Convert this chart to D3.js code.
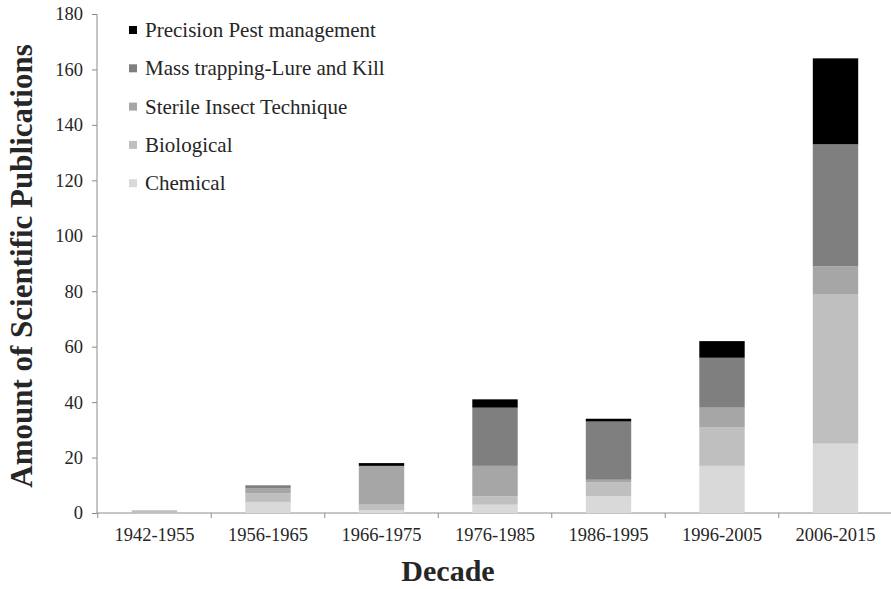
<!DOCTYPE html>
<html>
<head>
<meta charset="utf-8">
<script src="https://cdn.jsdelivr.net/npm/d3@7"></script>
<style>
	body { margin: 0; background: #fff; }
	text { font-family: "Liberation Serif", "Times New Roman", serif; fill: #262626; }
	.axis path, .axis line { stroke: #8c8c8c; }
</style>
</head>
<body>
<script>
// Data
var decades = ["1942-1955", "1956-1965", "1966-1975", "1976-1985", "1986-1995", "1996-2005", "2006-2015"];
var chemical = [0, 4, 1, 3, 6, 17, 25];
var biological = [1, 3, 2, 3, 5, 14, 54];
var sterile = [0, 2, 14, 11, 1, 7, 10];
var massTrapping = [0, 1, 0, 21, 21, 18, 44];
var precision = [0, 0, 1, 3, 1, 6, 31];
var yTicks = [0, 20, 40, 60, 80, 100, 120, 140, 160, 180];

var seriesNames = ["Chemical", "Biological", "Sterile Insect Technique", "Mass trapping-Lure and Kill", "Precision Pest management"];
var seriesValues = [chemical, biological, sterile, massTrapping, precision];
var colors = ["#d9d9d9", "#bfbfbf", "#a6a6a6", "#7f7f7f", "#000000"];

var width = 891, height = 589;

var svg = d3.select("body").append("svg")
	.attr("width", width)
	.attr("height", height);

// build rows for the stack
var rows = decades.map(function(d, i) {
	var r = { decade: d };
	seriesNames.forEach(function(s, j) { r[s] = seriesValues[j][i]; });
	return r;
});

var stack = d3.stack().keys(seriesNames);
var layers = stack(rows);

// scales
var x = d3.scaleBand()
	.domain(decades)
	.range([97.75, 892.25])
	.paddingInner(0.6)
	.paddingOuter(0.3);

var y = d3.scaleLinear()
	.domain([0, 180])
	.range([513, 14]);

var color = d3.scaleOrdinal().domain(seriesNames).range(colors);

// y axis
var yAxis = svg.append("g")
	.attr("class", "axis")
	.attr("transform", "translate(97,0)")
	.call(d3.axisLeft(y).tickValues(yTicks).tickSize(5).tickPadding(9));
yAxis.select(".domain").attr("d", "M0," + y(180) + "V" + y(0));
yAxis.selectAll("text").style("font-size", "18.5px").attr("fill", "#262626");

// x axis line and boundary ticks
var xAxis = svg.append("g").attr("class", "axis");
xAxis.append("line")
	.attr("x1", 97).attr("x2", 891)
	.attr("y1", y(0)).attr("y2", y(0));
var x0 = x.range()[0];
xAxis.selectAll(".bt")
	.data(d3.range(decades.length + 1))
	.enter().append("line")
	.attr("class", "bt")
	.attr("x1", function(i) { return x0 + i * x.step(); })
	.attr("x2", function(i) { return x0 + i * x.step(); })
	.attr("y1", y(0)).attr("y2", y(0) + 5);
xAxis.selectAll(".xl")
	.data(decades)
	.enter().append("text")
	.attr("class", "xl")
	.attr("x", function(d) { return x(d) + x.bandwidth() / 2; })
	.attr("y", 541)
	.attr("text-anchor", "middle")
	.style("font-size", "18.5px")
	.text(function(d) { return d; });

// bars
svg.selectAll(".layer")
	.data(layers)
	.enter().append("g")
	.attr("class", "layer")
	.attr("fill", function(d) { return color(d.key); })
	.selectAll("rect")
	.data(function(d) { return d; })
	.enter().append("rect")
	.attr("x", function(d) { return x(d.data.decade); })
	.attr("width", x.bandwidth())
	.attr("y", function(d) { return y(d[1]); })
	.attr("height", function(d) { return y(d[0]) - y(d[1]); });

// legend, top entry is the last series
var legendItems = seriesNames.slice().reverse();
var legend = svg.selectAll(".legend")
	.data(legendItems)
	.enter().append("g")
	.attr("class", "legend")
	.attr("transform", function(d, i) { return "translate(129," + (30 + i * 38.3) + ")"; });
legend.append("rect")
	.attr("x", 0).attr("y", -4)
	.attr("width", 8).attr("height", 8)
	.attr("fill", function(d) { return color(d); });
legend.append("text")
	.attr("x", 16)
	.attr("y", 7)
	.style("font-size", "21px")
	.attr("fill", "#1a1a1a")
	.text(function(d) { return d; });

// axis titles
svg.append("text")
	.attr("transform", "translate(32,266) rotate(-90)")
	.attr("text-anchor", "middle")
	.style("font-size", "31px")
	.style("font-weight", "bold")
	.attr("fill", "#111")
	.text("Amount of Scientific Publications");

svg.append("text")
	.attr("x", 448)
	.attr("y", 581)
	.attr("text-anchor", "middle")
	.style("font-size", "30px")
	.style("font-weight", "bold")
	.attr("fill", "#111")
	.text("Decade");
</script>
</body>
</html>
